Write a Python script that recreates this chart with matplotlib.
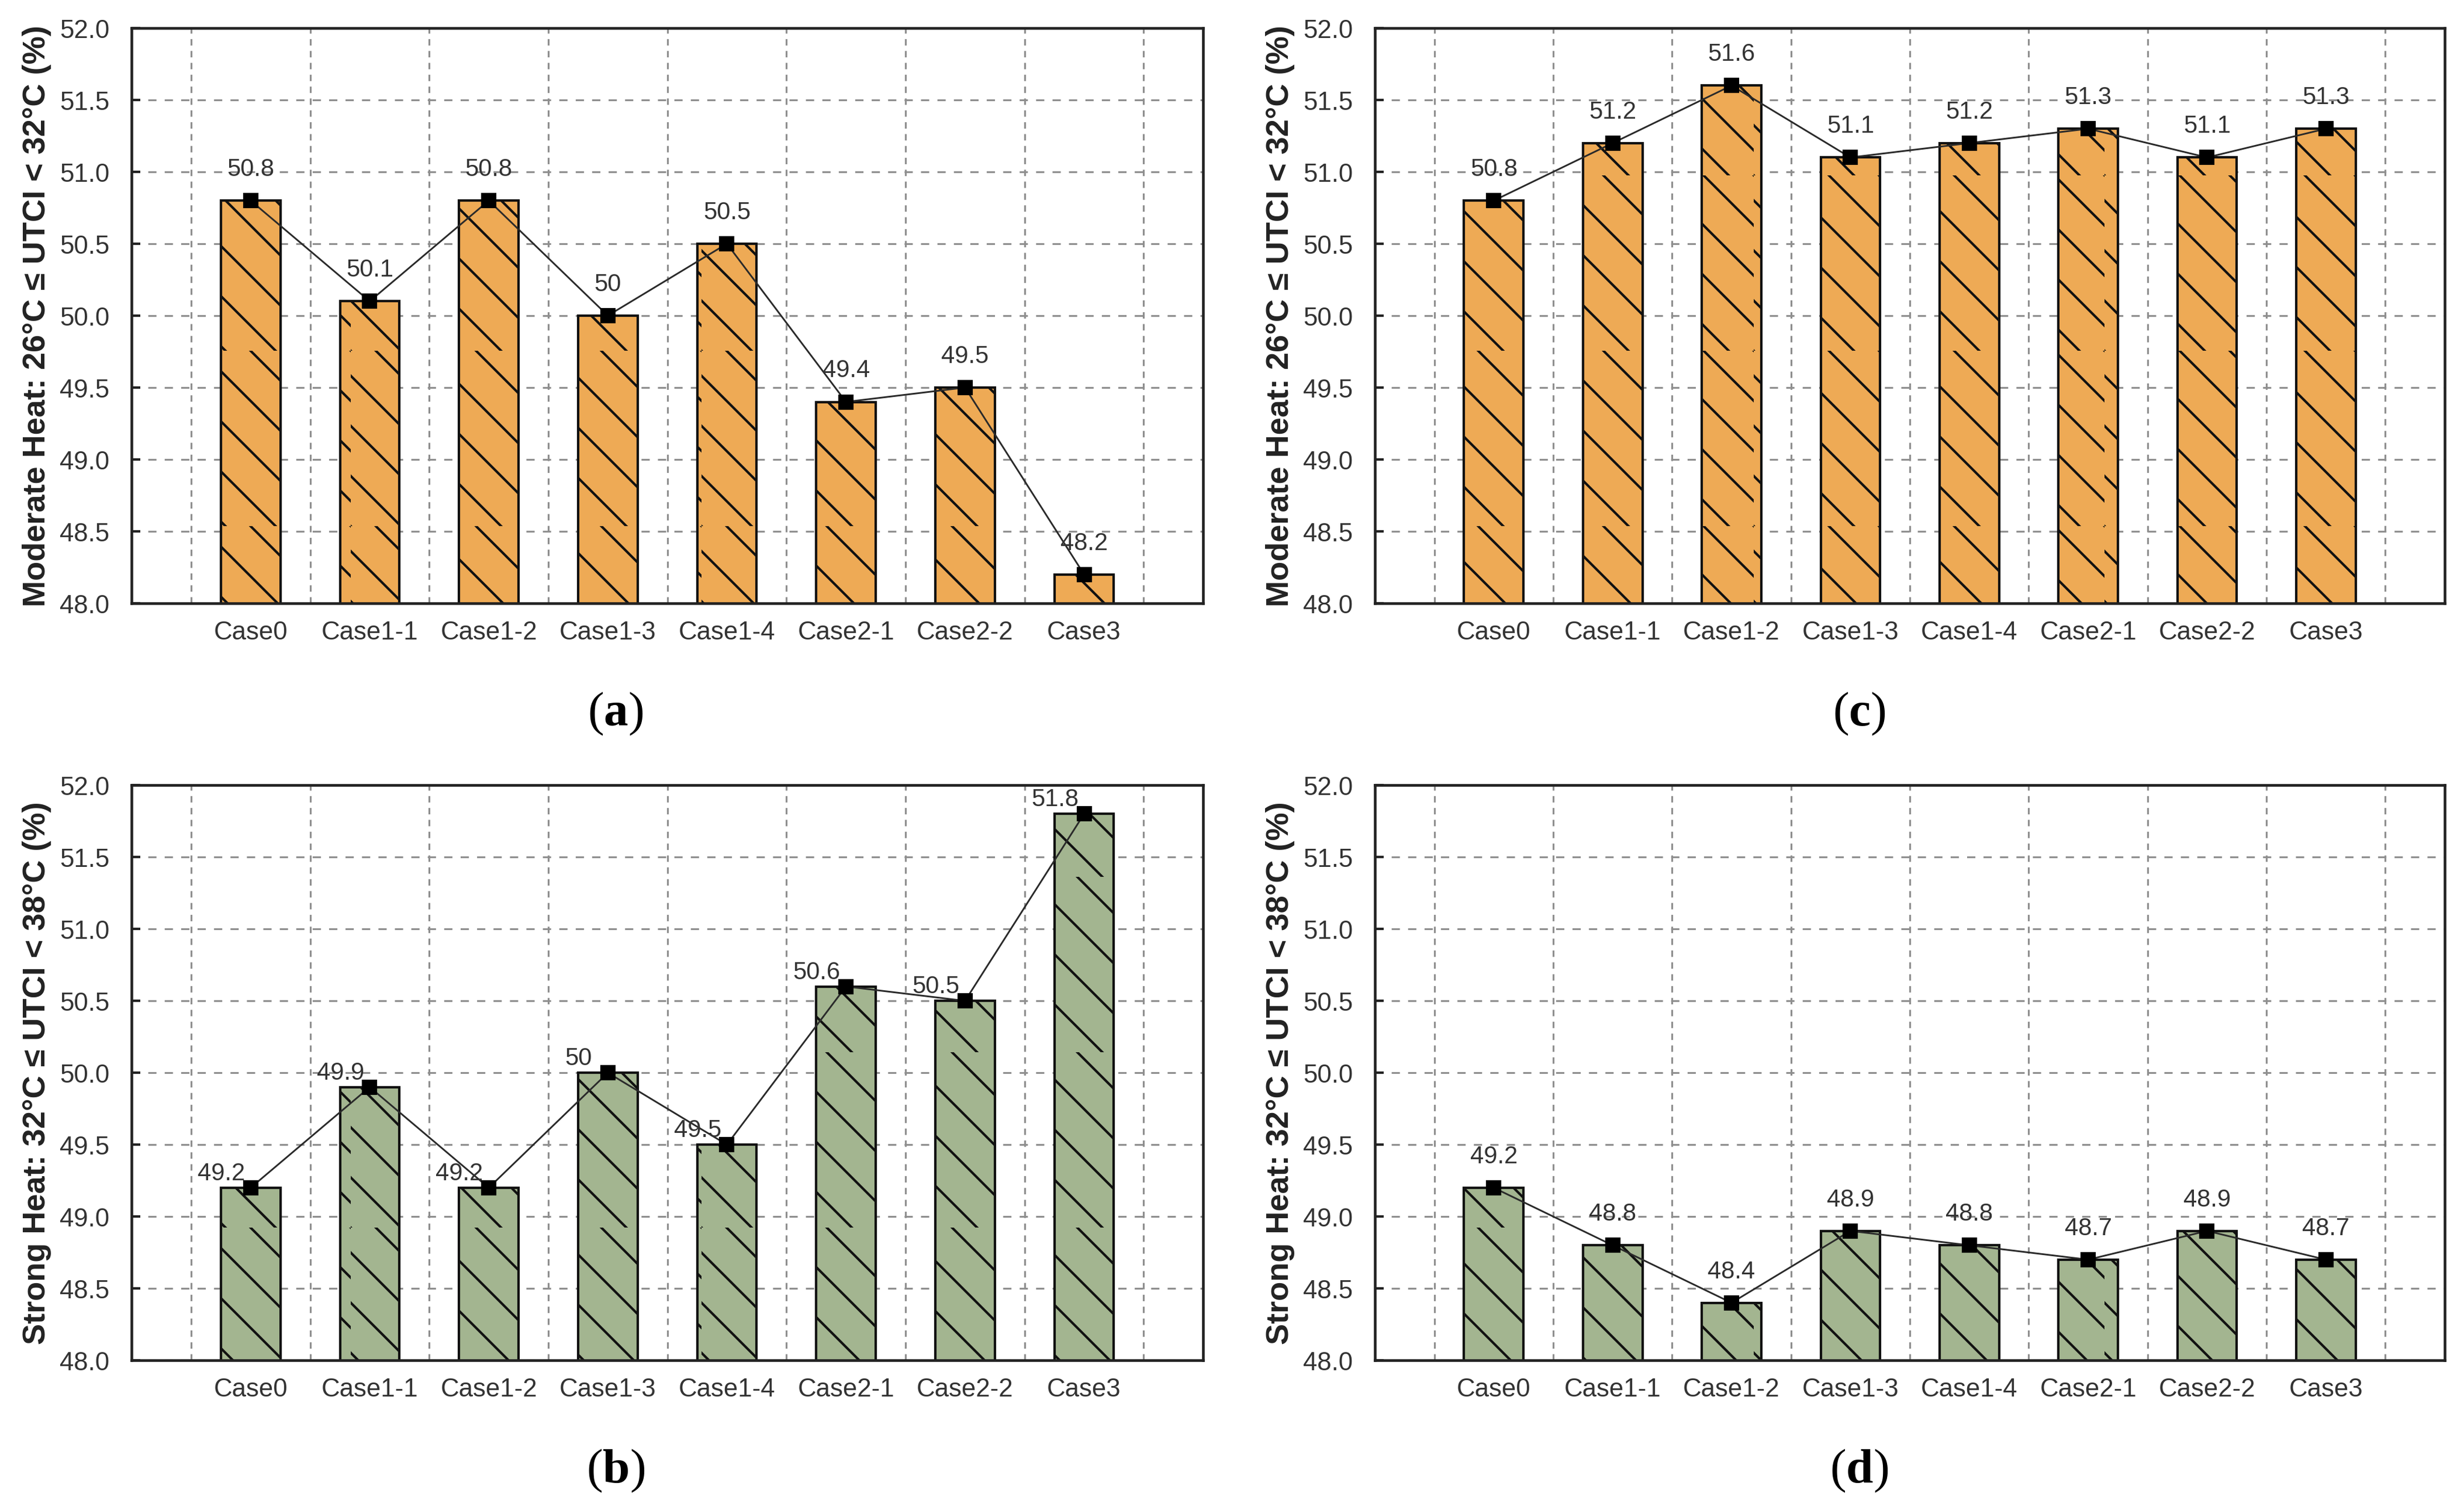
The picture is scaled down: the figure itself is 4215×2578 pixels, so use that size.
import matplotlib
matplotlib.use('Agg')
import matplotlib.pyplot as plt
import matplotlib.hatch as mhatch
import numpy as np

plt.rcParams['font.family'] = ['Liberation Sans', 'DejaVu Sans']
plt.rcParams['hatch.linewidth'] = 1.0
plt.rcParams['mathtext.fontset'] = 'custom'
plt.rcParams['mathtext.rm'] = 'Liberation Serif'
plt.rcParams['mathtext.bf'] = 'Liberation Serif:bold'

# hatch of about 7 lines per inch (between the built-in '\\' and '\\\\')
_orig_get_path = mhatch.get_path


def _get_path(hatchpattern, density=6):
    return _orig_get_path(hatchpattern, 7)


mhatch.get_path = _get_path

categories = ['Case0', 'Case1-1', 'Case1-2', 'Case1-3', 'Case1-4', 'Case2-1', 'Case2-2', 'Case3']
moderate_a = [50.8, 50.1, 50.8, 50.0, 50.5, 49.4, 49.5, 48.2]
strong_b = [49.2, 49.9, 49.2, 50.0, 49.5, 50.6, 50.5, 51.8]
moderate_c = [50.8, 51.2, 51.6, 51.1, 51.2, 51.3, 51.1, 51.3]
strong_d = [49.2, 48.8, 48.4, 48.9, 48.8, 48.7, 48.9, 48.7]
yticks = [48.0, 48.5, 49.0, 49.5, 50.0, 50.5, 51.0, 51.5, 52.0]
ylabel_moderate = 'Moderate Heat: 26°C ≤ UTCI < 32°C (%)'
ylabel_strong = 'Strong Heat: 32°C ≤ UTCI < 38°C (%)'

ORANGE = '#EEAA55'
GREEN = '#A3B590'
TXT = '#333333'

fig = plt.figure(figsize=(4215 / 300, 2579 / 300), dpi=300)
ax_a = fig.add_axes([0.0534, 0.5995, 0.4349, 0.3815])
ax_c = fig.add_axes([0.5580, 0.5995, 0.4342, 0.3815])
ax_b = fig.add_axes([0.0534, 0.0973, 0.4349, 0.3815])
ax_d = fig.add_axes([0.5580, 0.0973, 0.4342, 0.3815])


def draw(ax, vals, color, ylabel, offset):
    x = np.arange(len(categories))
    ax.bar(x, vals, width=0.5, color=color, edgecolor='#111111', linewidth=1.0,
           hatch='\\', zorder=2)
    ax.plot(x, vals, color='#2a2a2a', lw=0.7, marker='s', ms=5.5,
            mfc='black', mec='black', zorder=3)
    for xi, v in zip(x, vals):
        ax.annotate(f'{v:g}', (xi, v), xytext=offset, textcoords='offset points',
                    ha='center', va='center', fontsize=10, color=TXT, zorder=4)
    ax.set_xlim(-1, 8)
    ax.set_ylim(48, 52)
    ax.set_xticks(x)
    ax.set_xticklabels(categories)
    ax.set_xticks(np.arange(-0.5, 8, 1), minor=True)
    ax.set_yticks(yticks)
    ax.set_yticklabels([f'{t:.1f}' for t in yticks])
    ax.tick_params(axis='x', which='both', length=0, pad=7, labelsize=10.5, labelcolor=TXT)
    ax.tick_params(axis='y', which='major', direction='in', length=3.5, width=1.0,
                   pad=9, labelsize=10.5, labelcolor=TXT, color='#222222')
    ax.grid(axis='x', which='minor', ls=(0, (3.5, 3)), color='#8f8f8f', lw=0.75)
    ax.grid(axis='y', which='major', ls=(0, (4.5, 4.5)), color='#8f8f8f', lw=0.75)
    ax.set_axisbelow(True)
    for s in ax.spines.values():
        s.set_linewidth(1.1)
        s.set_color('#222222')
    ax.set_ylabel(ylabel, fontsize=13, fontweight='bold', color='#222222')
    ax.yaxis.set_label_coords(-0.0747, 0.5)


draw(ax_a, moderate_a, ORANGE, ylabel_moderate, (0, 13))
draw(ax_b, strong_b, GREEN, ylabel_strong, (-12, 6))
draw(ax_c, moderate_c, ORANGE, ylabel_moderate, (0, 13))
draw(ax_d, strong_d, GREEN, ylabel_strong, (0, 13))

for lab, (fx, fy) in zip('abcd', [(1053, 1221), (1053, 2516), (3180, 1221), (3180, 2516)]):
    fig.text(fx / 4215, 1 - fy / 2579, r'$\mathrm{(}\mathbf{' + lab + r'}\mathrm{)}$',
             ha='center', va='center', fontsize=20, color='black')

fig.savefig('out.png', dpi=300)
